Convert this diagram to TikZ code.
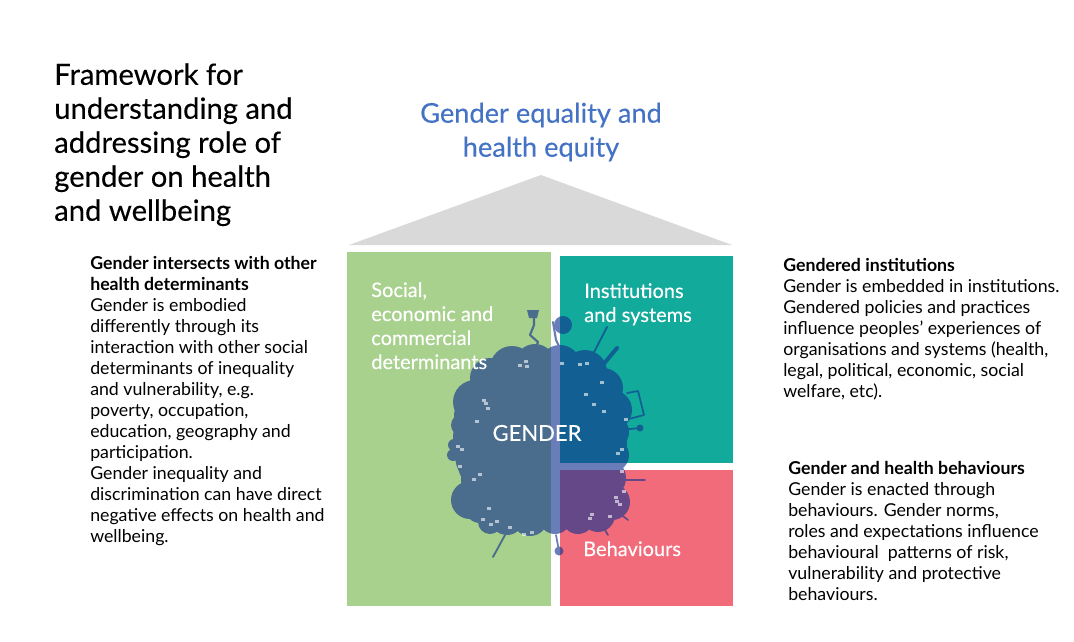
\documentclass[tikz,border=0pt]{standalone}
\usepackage{fontspec}
\setmainfont{Lato}
\newfontfamily\medfont[FakeBold=0.25]{Lato}
\usepackage{tikz}
\usetikzlibrary{positioning}
\definecolor{roofgrey}{HTML}{D9D9D9}
\definecolor{socialgreen}{HTML}{A9D18E}
\definecolor{instteal}{HTML}{12AB9B}
\definecolor{behavred}{HTML}{F26B7A}
\definecolor{titleblue}{HTML}{4472C4}
\definecolor{blobblue}{HTML}{13348F}
\tikzset{bodytext/.style={anchor=north west,inner sep=0pt,align=left,font=\fontsize{13.3}{15.75}\selectfont}}
\tikzset{boxtext/.style={anchor=north west,inner sep=0pt,align=left,text=white,font=\medfont\fontsize{15}{18}\selectfont}}
\tikzset{headtext/.style={anchor=north west,inner sep=0pt,align=left,font=\medfont\fontsize{21.9}{25.5}\selectfont}}
\tikzset{stick/.style={draw=blobblue,line cap=round,line join=round}}
\begin{document}
\begin{tikzpicture}[x=0.75pt,y=-0.75pt]
\useasboundingbox (0,0) rectangle (1074,642);
\fill[white] (0,0) rectangle (1074,642);
% roof and boxes
\fill[roofgrey] (349,245) -- (541,175) -- (732,245) -- cycle;
\fill[socialgreen] (347,252) rectangle (551,606);
\fill[instteal] (560,256) rectangle (733,463);
\fill[behavred] (560,470) rectangle (733,606);
% blob
\begin{scope}[transparency group,opacity=0.63]
\fill[blobblue] (540,440) circle (87);
\foreach \x/\y/\r in {475/402/22,490/378/20,512/368/22,535/364/20,560/366/21,585/372/22,603/388/20,612/410/20,
  612/432/17,612/455/17,606/478/20,612/502/18,598/515/17,578/518/16,555/518/16,530/518/18,507/518/17,490/522/12,
  480/508/15,470/500/19,478/480/17,468/462/12,470/440/17,462/425/11,468/415/14,453/455/6,454/445/6,612/385/6}
  \fill[blobblue] (\x,\y) circle (\r);
% sticks on the outline
\draw[stick,line width=1.6pt] (534,312) -- (534,325) -- (530,335) -- (538,342) -- (535,350);
\fill[blobblue] (527,310) -- (539,310) -- (537,318) -- (529,318) -- cycle;
\fill[blobblue] (563,325) circle (9);
\draw[stick,line width=1.6pt] (553,322) -- (556,340) -- (560,348);
\draw[stick,line width=1.4pt] (607,327) -- (590,360);
\draw[stick,line width=3pt] (617,348) -- (597,372);
\draw[stick,line width=1.3pt] (627,393) -- (638,391) -- (644,415) -- (625,420);
\draw[stick,line width=1.3pt] (620,430) -- (640,428);
\fill[blobblue] (640,428) circle (3.5);
\draw[stick,line width=1.3pt] (625,480) -- (645,480);
\draw[stick,line width=1.3pt] (615,510) -- (628,520);
\draw[stick,line width=1.3pt] (600,522) -- (608,535);
\fill[blobblue] (559,551) circle (4.5);
\draw[stick,line width=1.3pt] (559,551) -- (556,535);
\draw[stick,line width=1.4pt] (493,557) -- (505,535);
\draw[stick,line width=1.3pt] (480,370) -- (490,382);
\end{scope}
% white specks
\foreach \x/\y in {482/399,486/407,484/402,475/420,456/445,460/448,458/465,478/473,472/478,487/507,481/518,489/523,495/520,
  508/526,522/533,530/531,518/364,525/365,524/360,560/362,578/363,585/362,600/381,602/410,592/403,620/448,624/418,620/470,
  622/490,614/496,618/503,615/500,608/515,590/513,588/517,616/452,584/393}
  \fill[white,opacity=0.6] (\x,\y) rectangle ++(3.5,3);
% titles
\node[headtext] (title) at (54,63) {Framework for\\understanding and\\addressing role of\\gender on health\\and wellbeing};
\node[anchor=center,align=center,text=titleblue,font=\medfont\fontsize{20.4}{25.5}\selectfont] (goal) at (541,132) {Gender equality and\\health equity};
% box labels
\node[boxtext] (social) at (371,282) {Social,\\economic and\\commercial\\determinants};
\node[boxtext] (inst) at (584,283) {Institutions\\and systems};
\node[boxtext] (behav) at (583,541) {Behaviours};
\node[anchor=center,text=white,font=\medfont\fontsize{16.5}{18}\selectfont] (gender) at (537,433) {GENDER};
% side texts
\node[bodytext] (left) at (90,256) {\textbf{Gender intersects with other}\\\textbf{health determinants}\\Gender is embodied\\differently through its\\interaction with other social\\determinants of inequality\\and vulnerability, e.g.\\poverty, occupation,\\education, geography and\\participation.\\Gender inequality and\\discrimination can have direct\\negative effects on health and\\wellbeing.};
\node[bodytext] (right) at (783,258) {\textbf{Gendered institutions}\\Gender is embedded in institutions.\\Gendered policies and practices\\influence peoples’ experiences of\\organisations and systems (health,\\legal, political, economic, social\\welfare, etc).};
\node[bodytext] (lower) at (788,461) {\textbf{Gender and health behaviours}\\Gender is enacted through\\behaviours. Gender norms,\\roles and expectations influence\\behavioural~ patterns of risk,\\vulnerability and protective\\behaviours.};
\end{tikzpicture}
\end{document}
